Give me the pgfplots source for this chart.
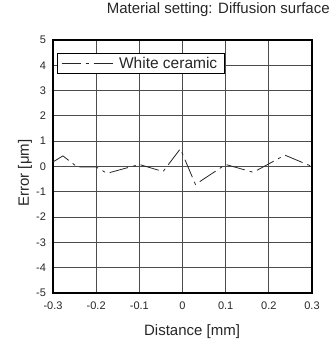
\documentclass[border=0pt]{standalone}
\usepackage{fontspec}
\setmainfont{Liberation Sans}
\usepackage{pgfplots}
\pgfplotsset{compat=1.18}
\begin{document}
\begin{tikzpicture}
\useasboundingbox (-53pt,-46pt) rectangle (282pt,293pt);
\begin{axis}[
  at={(0pt,0pt)}, anchor=south west,
  scale only axis,
  width=259pt, height=253pt,
  xmin=-0.3, xmax=0.3, ymin=-5, ymax=5,
  xtick={-0.3,-0.2,...,0.3},
  xticklabels={-0.3,-0.2,-0.1,0,0.1,0.2,0.3},
  ytick={-5,-4,...,5},
  /pgf/number format/assume math mode=true,
  tick label style={font=\fontsize{11}{13}\selectfont, text=black!85},
  xticklabel style={yshift=-5pt},
  yticklabel style={xshift=-3.5pt},
  grid=major,
  major grid style={black!70, line width=0.8pt},
  axis line style={black, line width=1.4pt},
  tick style={draw=none},
  xlabel={Distance [mm]},
  ylabel={Error [μm]},
  label style={font=\fontsize{15}{17}\selectfont, text=black!85},
  xlabel style={at={(axis description cs:0.537,0)}, anchor=base, yshift=-42pt},
  ylabel style={at={(axis description cs:-0.0927,0.474)}, anchor=base},
  title={Material setting: Diffusion surface},
  title style={font=\fontsize{15}{17}\selectfont, text=black!85, at={(axis description cs:0.638,1)}, anchor=base, yshift=20pt},
  legend style={at={(axis description cs:0.015,0.949)}, anchor=north west, draw=black, line width=0.8pt,
    font=\fontsize{15.5}{17}\selectfont, inner ysep=1.5pt, inner xsep=4pt, text=black!85,
    nodes={inner xsep=3pt}},
  legend cell align=left,
  legend image code/.code={\draw[#1] (0pt,0pt) -- (54pt,0pt);},
]
\addplot[black!85, line width=0.8pt, dash pattern=on 19pt off 5pt on 3pt off 5pt] coordinates {
  (-0.3,0.18) (-0.277,0.42) (-0.244,-0.02) (-0.2,-0.02) (-0.175,-0.27)
  (-0.1,0.08) (-0.045,-0.2) (-0.005,0.7) (0.030,-0.71) (0.1,0.08)
  (0.164,-0.23) (0.237,0.45) (0.3,0.0)
};
\addlegendentry{White ceramic}
\end{axis}
\end{tikzpicture}
\end{document}
